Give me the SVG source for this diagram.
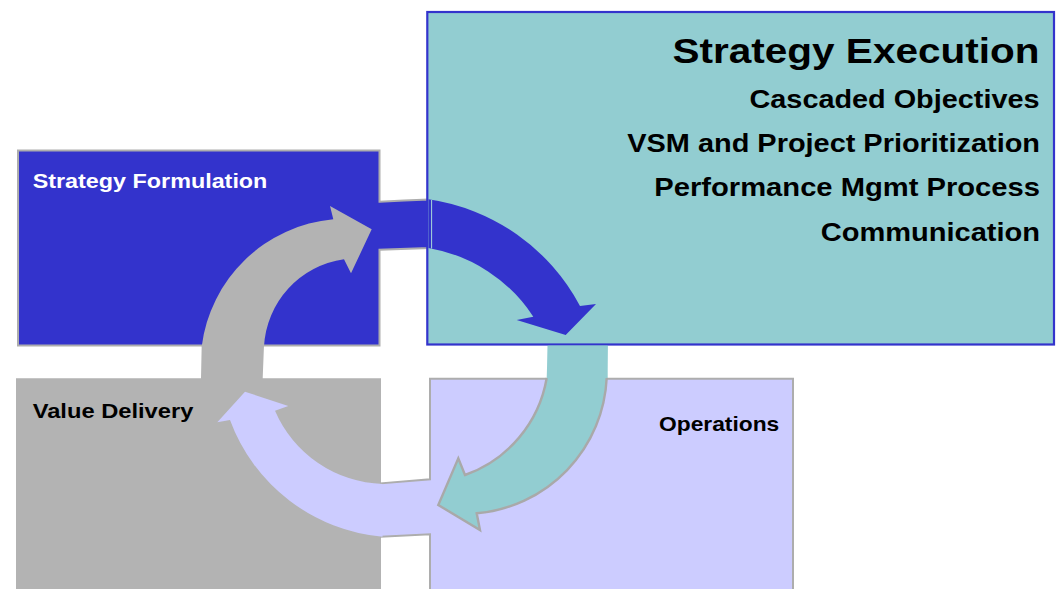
<svg xmlns="http://www.w3.org/2000/svg" width="1057" height="589" viewBox="0 0 1057 589">
<style>
.lbl{font-family:"Liberation Sans",Arial,Helvetica,sans-serif;font-weight:bold;}
.box{stroke:#ADADAD;stroke-width:2;}
.ttl{text-anchor:end;fill:#000;}
</style>
<rect width="1057" height="589" fill="#fff"/>
<g id="strategy-formulation">
<path class="box" fill="#3333CC" d="M18,150.5 H379.5 V201.8 Q404,200.3 429,199.5 V248 Q404,248.8 379.5,249.8 V345.5 H18 Z"/>
<text class="lbl" x="32.7" y="188.3" font-size="21" fill="#fff" textLength="234.7" lengthAdjust="spacingAndGlyphs">Strategy Formulation</text>
</g>
<g id="value-delivery">
<path fill="#B3B3B3" d="M16,378.3 H201 L201.7,345 H264 L262.7,378.3 H381 V600 H16 Z"/>
<text class="lbl" x="32.7" y="417.7" font-size="21" fill="#000" textLength="160.7" lengthAdjust="spacingAndGlyphs">Value Delivery</text>
</g>
<g id="strategy-execution">
<rect x="547.7" y="340" width="60" height="40" fill="#92CDD1"/>
<rect x="427.3" y="12" width="626.7" height="332.5" fill="#92CDD1" stroke="#3333CC" stroke-width="2.2"/>
<text class="lbl ttl" x="1039.5" y="63" font-size="35" textLength="367" lengthAdjust="spacingAndGlyphs">Strategy Execution</text>
<text class="lbl ttl" x="1039.5" y="108" font-size="25.5" textLength="290" lengthAdjust="spacingAndGlyphs">Cascaded Objectives</text>
<text class="lbl ttl" x="1040" y="152.3" font-size="25.5" textLength="412.7" lengthAdjust="spacingAndGlyphs">VSM and Project Prioritization</text>
<text class="lbl ttl" x="1040" y="196.3" font-size="25.5" textLength="385.7" lengthAdjust="spacingAndGlyphs">Performance Mgmt Process</text>
<text class="lbl ttl" x="1040" y="240.5" font-size="25.5" textLength="219.3" lengthAdjust="spacingAndGlyphs">Communication</text>
</g>
<g id="operations">
<path class="box" fill="#CCCCFF" d="M430,378.7 H793 V600 H430 V534.3 Q405,535.5 381,536.7 V483.3 Q405,481.3 430,479.3 Z"/>
<text class="lbl" x="659" y="430.7" font-size="21" fill="#000" textLength="120.3" lengthAdjust="spacingAndGlyphs">Operations</text>
</g>
<g id="connectors">
<path id="arrow-formulation-execution" fill="#3333CC" d="M428.5,199.2 A205,205 0 0 1 580,306 L596,304 L565.7,335 L516.7,320 L533.3,316.7 A157,157 0 0 0 428.5,247.9 Z"/>
<line x1="431.6" y1="200" x2="431.6" y2="248.5" stroke="#A9D8DA" stroke-width="1"/>
<g id="arrow-execution-operations">
<path fill="#92CDD1" d="M547.7,345.5 L546.7,378 A125,125 0 0 1 465,475 L458.3,458.3 L438.3,505 L480,530 L476.7,513.3 A142.5,142.5 0 0 0 606.7,378 L607.7,345.5 Z"/>
<path fill="none" stroke="#A9A9A9" stroke-width="2.4" stroke-linejoin="miter" d="M546.7,378 A125,125 0 0 1 465,475 L458.3,458.3 L438.3,505 L480,530 L476.7,513.3 A142.5,142.5 0 0 0 606.7,378"/>
</g>
<path id="arrow-operations-delivery" fill="#CCCCFF" d="M382.5,484 A121.3,121.3 0 0 1 275,410.7 L288.3,406 L245,391.7 L217.3,422.3 L230,420 A179.3,179.3 0 0 0 382.5,536.7 Z"/>
<path id="arrow-delivery-formulation" fill="#B3B3B3" d="M201.7,346.5 A146,146 0 0 1 333.3,219.3 L330,206 L371.7,229.3 L351,273.3 L344,259.3 A93,93 0 0 0 264,346.5 Z"/>
</g>
</svg>
